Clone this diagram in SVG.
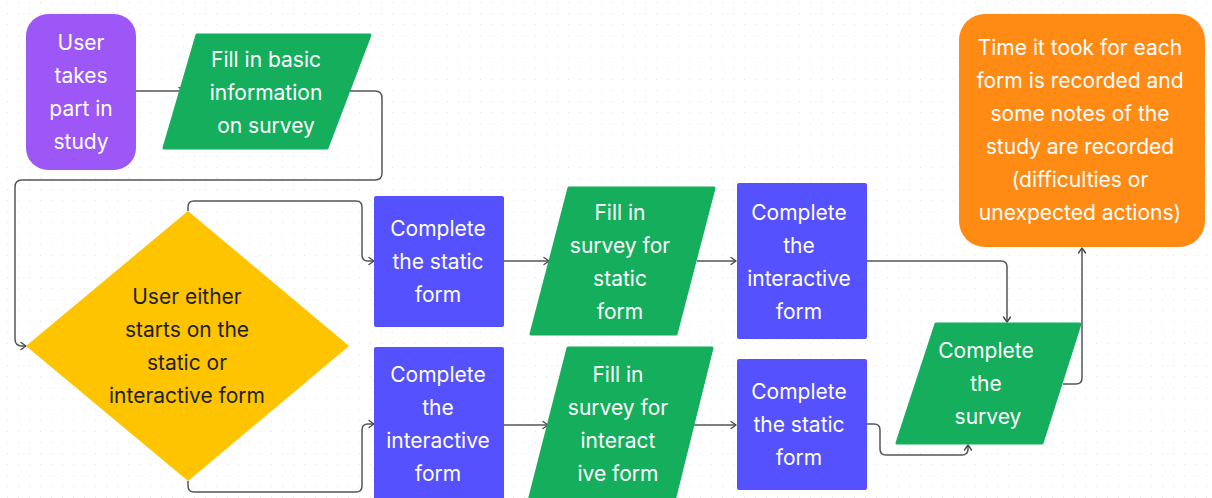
<svg xmlns="http://www.w3.org/2000/svg" width="1212" height="498" viewBox="0 0 1212 498">
<defs>
<pattern id="dots" x="7" y="2" width="11" height="11" patternUnits="userSpaceOnUse">
<circle cx="0.5" cy="0.5" r="0.7" fill="#e4e4e4"/>
</pattern>
<marker id="arr" viewBox="0 0 10 10" refX="9" refY="5" markerWidth="10" markerHeight="10" markerUnits="userSpaceOnUse" orient="auto">
<path d="M4,1.5 L9,5 L4,8.5" fill="none" stroke="#4a4a4a" stroke-width="1.4" stroke-linecap="round" stroke-linejoin="round"/>
</marker>
<style>
.t{font-family:Inter,"Noto Sans","Liberation Sans",sans-serif;font-size:21px;fill:#ffffff;text-anchor:middle}
.d{fill:#1e1e1e}
.c{fill:none;stroke:#555555;stroke-width:1.5;marker-end:url(#arr)}
.g{fill:#14ae5c;stroke:#14ae5c;stroke-width:3;stroke-linejoin:round}
.b{fill:#5551ff}
</style>
</defs>
<rect width="1212" height="498" fill="#ffffff"/>
<rect width="1212" height="498" fill="url(#dots)"/>

<g id="connectors">
<path class="c" d="M136,91 H184"/>
<path class="c" d="M350,91 H375 Q382,91 382,98 V173 Q382,180 375,180 H22 Q15,180 15,187 V339 Q15,346 22,346 H26"/>
<path class="c" d="M188,211 V207 Q188,201 194,201 H356 Q362,201 362,207 V255 Q362,261 368,261 H374"/>
<path class="c" d="M188,481 V486 Q188,492 194,492 H356 Q362,492 362,486 V430 Q362,424 368,424 H374"/>
<path class="c" d="M504,261 H549"/>
<path class="c" d="M697,261 H736"/>
<path class="c" d="M867,261 H1001 Q1007,261 1007,267 V322"/>
<path class="c" d="M504,425 H548"/>
<path class="c" d="M694,425 H736"/>
<path class="c" d="M867,424 H874 Q880,424 880,430 V449 Q880,455 886,455 H962 Q968,455 968,449 V445"/>
<path class="c" d="M1063,384 H1076 Q1082,384 1082,378 V248"/>
</g>

<g id="start">
<rect x="26" y="14" width="110" height="156" rx="22" fill="#9d57f7"/>
<text class="t" x="81"><tspan x="81" y="50">User</tspan><tspan x="81" y="83">takes</tspan><tspan x="81" y="116">part in</tspan><tspan x="81" y="149">study</tspan></text>
</g>

<g id="basic-info">
<polygon class="g" points="197,35 370,35 327,148 164,148"/>
<text class="t"><tspan x="266" y="67">Fill in basic</tspan><tspan x="266" y="100">information</tspan><tspan x="266" y="133">on survey</tspan></text>
</g>

<g id="decision">
<polygon points="188,211 349,346 188,481 26,346" fill="#ffc400"/>
<text class="t d"><tspan x="187" y="304">User either</tspan><tspan x="187" y="337">starts on the</tspan><tspan x="187" y="370">static or</tspan><tspan x="187" y="403">interactive form</tspan></text>
</g>

<g id="static-first">
<rect class="b" x="374" y="196" width="130" height="131" rx="2"/>
<text class="t"><tspan x="438" y="236">Complete</tspan><tspan x="438" y="269">the static</tspan><tspan x="438" y="302">form</tspan></text>
</g>

<g id="survey-static">
<polygon class="g" points="569,188 714,188 676,334 531,334"/>
<text class="t"><tspan x="620" y="220">Fill in</tspan><tspan x="620" y="253">survey for</tspan><tspan x="620" y="286">static</tspan><tspan x="620" y="319">form</tspan></text>
</g>

<g id="interactive-second">
<rect class="b" x="737" y="183" width="130" height="156" rx="2"/>
<text class="t"><tspan x="799" y="220">Complete</tspan><tspan x="799" y="253">the</tspan><tspan x="799" y="286">interactive</tspan><tspan x="799" y="319">form</tspan></text>
</g>

<g id="interactive-first">
<rect class="b" x="374" y="347" width="130" height="160" rx="2"/>
<text class="t"><tspan x="438" y="382">Complete</tspan><tspan x="438" y="415">the</tspan><tspan x="438" y="448">interactive</tspan><tspan x="438" y="481">form</tspan></text>
</g>

<g id="survey-interactive">
<polygon class="g" points="568,348 712,348 673,505 528,505"/>
<text class="t"><tspan x="618" y="382">Fill in</tspan><tspan x="618" y="415">survey for</tspan><tspan x="618" y="448">interact</tspan><tspan x="618" y="481">ive form</tspan></text>
</g>

<g id="static-second">
<rect class="b" x="737" y="359" width="130" height="131" rx="2"/>
<text class="t"><tspan x="799" y="399">Complete</tspan><tspan x="799" y="432">the static</tspan><tspan x="799" y="465">form</tspan></text>
</g>

<g id="complete-survey">
<polygon class="g" points="936,324 1080,324 1042,443 897,443"/>
<text class="t"><tspan x="986" y="358">Complete</tspan><tspan x="986" y="391">the</tspan><tspan x="988" y="424">survey</tspan></text>
</g>

<g id="record">
<rect x="959" y="14" width="246" height="233" rx="26" fill="#ff8a14"/>
<text class="t"><tspan x="1080" y="55">Time it took for each</tspan><tspan x="1080" y="88">form is recorded and</tspan><tspan x="1080" y="121">some notes of the</tspan><tspan x="1080" y="154">study are recorded</tspan><tspan x="1080" y="187">(difficulties or</tspan><tspan x="1080" y="220">unexpected actions)</tspan></text>
</g>
</svg>
